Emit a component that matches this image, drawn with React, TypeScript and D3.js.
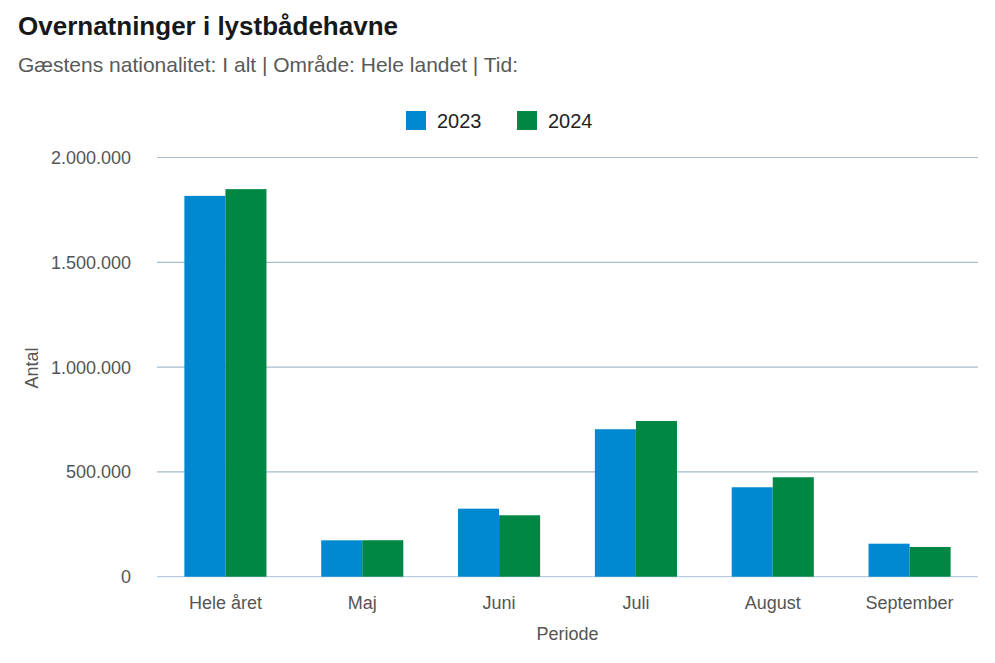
import React from "react";
import * as d3 from "d3";

const categories = ["Hele året", "Maj", "Juni", "Juli", "August", "September"];
const seriesNames = ["2023", "2024"];
const values2023 = [1817000, 173500, 324600, 703600, 426700, 157500];
const values2024 = [1849000, 174000, 293000, 743000, 474500, 141800];
const yTicks = [0, 500000, 1000000, 1500000, 2000000];
const colors = ["#0088d0", "#008744"];

const W = 995, H = 663;
const left = 157, right = 978, top = 157.5, bottom = 576.7;

export default function App() {
  const x = d3.scaleBand<string>().domain(categories).range([left, right]).paddingInner(0.4).paddingOuter(0.2);
  const xs = d3.scaleBand<string>().domain(seriesNames).range([0, x.bandwidth()]);
  const y = d3.scaleLinear().domain([0, 2000000]).range([bottom, top]);
  const fmt = (v: number) => d3.format(",")(v).replace(/,/g, ".");
  const series = [values2023, values2024];
  const font = "'Liberation Sans', Arial, sans-serif";
  return (
    <svg width={W} height={H} style={{ position: "absolute", left: 0, top: 0, background: "#fff" }} fontFamily={font}>
      <text x={18} y={35} fontSize={26} fontWeight="bold" fill="#16191c">Overnatninger i lystbådehavne</text>
      <text x={18} y={72} fontSize={21} fill="#595959">Gæstens nationalitet: I alt | Område: Hele landet | Tid:</text>
      {seriesNames.map((s, i) => (
        <g key={s} transform={`translate(${406 + i * 111},111)`}>
          <rect width={20} height={19} fill={colors[i]} />
          <text x={31} y={17} fontSize={20} fill="#222">{s}</text>
        </g>
      ))}
      {yTicks.map((t) => (
        <g key={t}>
          <line x1={left} x2={right} y1={y(t)} y2={y(t)} stroke={t === 0 ? "#b9cde0" : "#a7bccc"} strokeWidth={1.2} />
          <text x={131} y={y(t) + 6.5} textAnchor="end" fontSize={18} fill="#555">{fmt(t)}</text>
        </g>
      ))}
      {categories.map((c, ci) => (
        <g key={c}>
          {series.map((vals, si) => (
            <rect key={si} x={(x(c) as number) + (xs(seriesNames[si]) as number)} width={xs.bandwidth()}
              y={y(vals[ci])} height={bottom - y(vals[ci])} fill={colors[si]} />
          ))}
          <text x={(x(c) as number) + x.bandwidth() / 2} y={609} textAnchor="middle" fontSize={18} fill="#555">{c}</text>
        </g>
      ))}
      <text transform={`translate(38,368) rotate(-90)`} textAnchor="middle" fontSize={18} fill="#555">Antal</text>
      <text x={(left + right) / 2} y={640} textAnchor="middle" fontSize={18} fill="#555">Periode</text>
    </svg>
  );
}
